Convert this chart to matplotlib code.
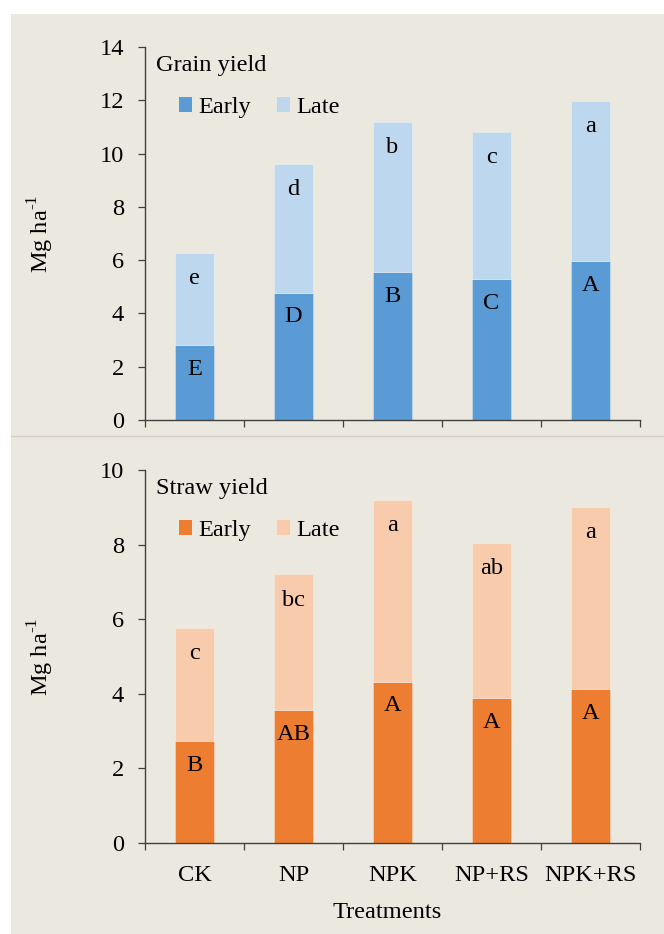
import matplotlib
matplotlib.use("Agg")
import matplotlib.pyplot as plt
from matplotlib.patches import Patch, Rectangle
from matplotlib.lines import Line2D

plt.rcParams["font.family"] = "Liberation Serif"
plt.rcParams["mathtext.fontset"] = "custom"
plt.rcParams["mathtext.rm"] = "Liberation Serif"

treatments = ["CK", "NP", "NPK", "NP+RS", "NPK+RS"]

grain_early = [2.82, 4.78, 5.54, 5.29, 5.97]
grain_late = [3.44, 4.82, 5.66, 5.51, 6.02]
grain_early_letters = ["E", "D", "B", "C", "A"]
grain_late_letters = ["e", "d", "b", "c", "a"]

straw_early = [2.73, 3.56, 4.32, 3.88, 4.13]
straw_late = [3.03, 3.64, 4.88, 4.17, 4.87]
straw_early_letters = ["B", "AB", "A", "A", "A"]
straw_late_letters = ["c", "bc", "a", "ab", "a"]

BG = "#EBE8DF"
SPINE = "#404040"
FS = 17.6


def draw_panel(ax, early, late, early_lab, late_lab, colors, title, ymax, xlabels):
    ax.set_facecolor("none")
    x = range(len(treatments))
    ax.bar(x, early, width=0.4, color=colors[0], edgecolor=(1, 1, 1, 0.35), linewidth=0.6)
    ax.bar(x, late, width=0.4, bottom=early, color=colors[1],
           edgecolor=(1, 1, 1, 0.35), linewidth=0.6)

    # significance letters just under the top of each segment
    for i in x:
        ax.annotate(early_lab[i], (i, early[i]), xytext=(0, -17.5), textcoords="offset points",
                    ha="center", va="center", fontsize=FS)
        ax.annotate(late_lab[i], (i, early[i] + late[i]), xytext=(0, -18.5),
                    textcoords="offset points", ha="center", va="center", fontsize=FS)

    ax.set_xlim(-0.5, len(treatments) - 0.5)
    ax.set_ylim(0, ymax)
    ax.set_yticks(range(0, ymax + 1, 2))
    # tick marks between categories, names centred under the bars
    ax.set_xticks([i - 0.5 for i in range(len(treatments) + 1)])
    ax.set_xticklabels([])
    ax.set_xticks(list(x), minor=True)
    if xlabels:
        ax.set_xticklabels(treatments, minor=True)
    ax.tick_params(axis="x", which="minor", length=0, pad=16, labelsize=FS)
    ax.tick_params(axis="both", which="major", direction="out", length=5, width=0.9,
                   color=SPINE, labelsize=FS, pad=10)
    for side in ("top", "right"):
        ax.spines[side].set_visible(False)
    for side in ("left", "bottom"):
        ax.spines[side].set_color(SPINE)
        ax.spines[side].set_linewidth(1.0)

    ax.text(0.022, 0.935, title, transform=ax.transAxes, fontsize=FS, ha="left", va="baseline")
    ax.text(-0.21, 0.5, r"Mg ha$^{\text{-1}}$", transform=ax.transAxes, rotation=90,
            ha="center", va="center", fontsize=FS)

    handles = [Patch(facecolor=colors[0], label="Early"), Patch(facecolor=colors[1], label="Late")]
    ax.legend(handles=handles, loc="center left", bbox_to_anchor=(0.068, 0.838), ncol=2,
              frameon=False, fontsize=FS, handlelength=0.55, handleheight=0.55,
              handletextpad=0.25, columnspacing=1.05, borderpad=0, borderaxespad=0)


fig = plt.figure(figsize=(6.64, 9.34), dpi=100, facecolor="white")
fig.patches.append(Rectangle((11 / 664, 0), 1, (934 - 14) / 934, transform=fig.transFigure,
                             facecolor=BG, edgecolor="none", zorder=-10))
fig.lines.append(Line2D([11 / 664, 1], [(934 - 436) / 934] * 2, transform=fig.transFigure,
                        color="#D6D0BE", linewidth=1.0))

ax_top = fig.add_axes([145 / 664, (934 - 420) / 934, 495 / 664, 373 / 934])
ax_bot = fig.add_axes([145 / 664, (934 - 842.7) / 934, 495 / 664, 372.7 / 934])

draw_panel(ax_top, grain_early, grain_late, grain_early_letters, grain_late_letters,
           ("#5B9BD5", "#BDD7EE"), "Grain yield", 14, False)
draw_panel(ax_bot, straw_early, straw_late, straw_early_letters, straw_late_letters,
           ("#ED7D31", "#F8CBAD"), "Straw yield", 10, True)

ax_bot.text(0.49, -0.186, "Treatments", transform=ax_bot.transAxes, ha="center", va="center",
            fontsize=FS)

fig.savefig("out.png", dpi=100, facecolor=fig.get_facecolor())
